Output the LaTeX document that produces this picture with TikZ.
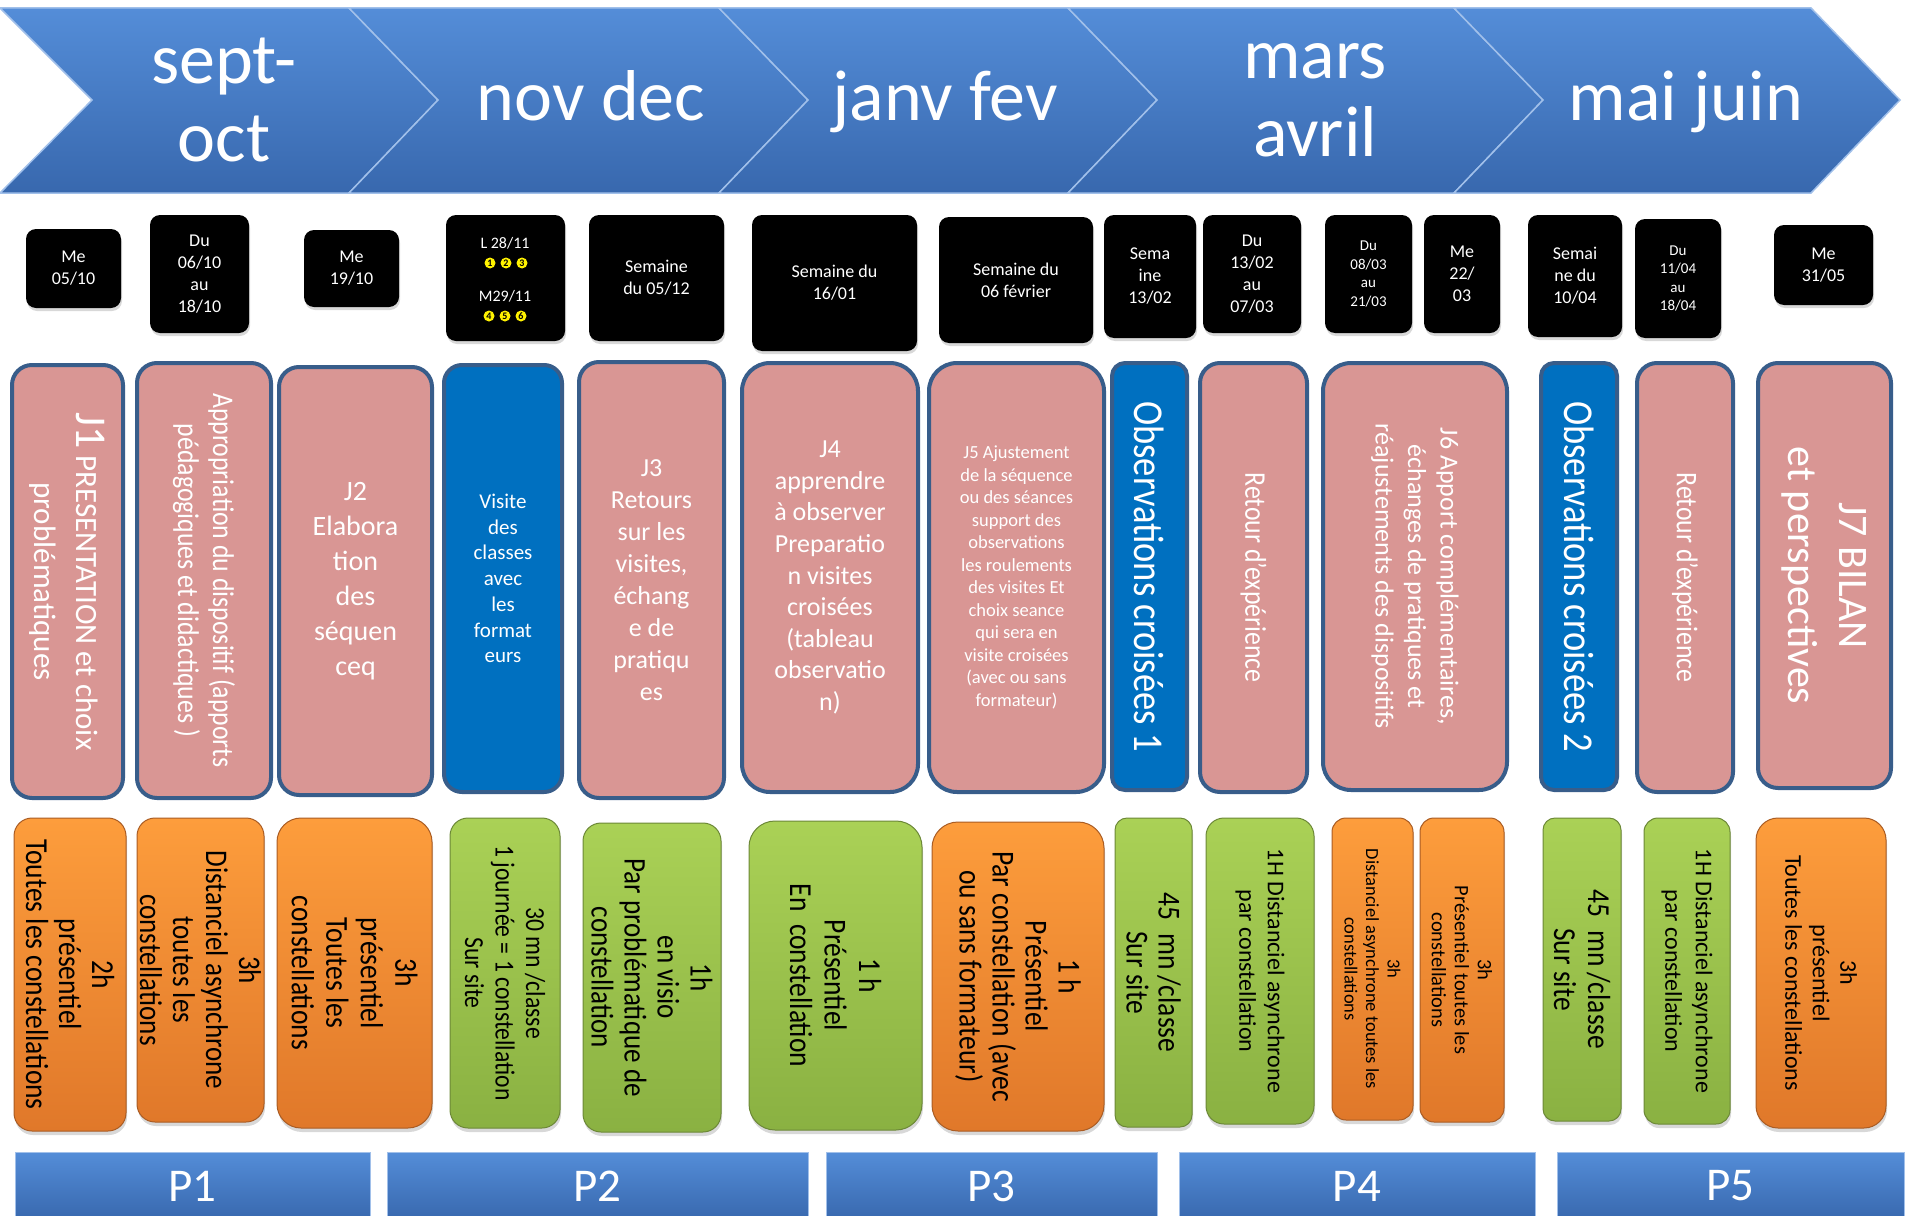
\documentclass[tikz,border=0pt]{standalone}
\usepackage{fontspec}
\setmainfont{Carlito}
\newfontfamily\narrowfont[FakeStretch=0.86]{Carlito}
\usetikzlibrary{shadows}
\definecolor{chevtop}{RGB}{84,141,216}
\definecolor{chevbot}{RGB}{56,104,174}
\definecolor{pinkfill}{RGB}{217,150,148}
\definecolor{pinkline}{RGB}{56,93,138}
\definecolor{obsblue}{RGB}{0,112,192}
\definecolor{orangetop}{RGB}{253,157,60}
\definecolor{orangebot}{RGB}{224,120,42}
\definecolor{orangeline}{RGB}{170,92,35}
\definecolor{greentop}{RGB}{170,209,86}
\definecolor{greenbot}{RGB}{138,177,66}
\definecolor{greenline}{RGB}{108,136,55}
\tikzset{
  chev/.style={top color=chevtop, bottom color=chevbot, draw=chevtop!55!white, line width=1.5pt},
  month/.style={text=white, align=center, font=\fontsize{72}{78}\selectfont},
  datebox/.style={fill=black, rounded corners=10pt, text=white, align=center, inner sep=0pt,
    font=\fontsize{18}{22}\selectfont, drop shadow={opacity=0.3, shadow xshift=1pt, shadow yshift=-3pt}},
  datetext/.style={text=white, font=\fontsize{16}{16}\selectfont},
  numdot/.style={circle, fill=yellow, inner sep=0pt, minimum size=11pt, font=\fontsize{10}{10}\selectfont\bfseries},
  jbox/.style={fill=pinkfill, draw=pinkline, line width=4pt, rounded corners=20pt, text=white, align=center, inner sep=0pt},
  obsbox/.style={jbox, fill=obsblue, rounded corners=13pt},
  orangebox/.style={top color=orangetop, bottom color=orangebot, draw=orangeline, line width=1pt,
    rounded corners=18pt, align=center, inner sep=0pt, rotate=-90,
    drop shadow={opacity=0.3, shadow xshift=1pt, shadow yshift=-4pt}},
  greenbox/.style={orangebox, top color=greentop, bottom color=greenbot, draw=greenline},
  pbar/.style={top color=chevtop, bottom color=chevbot, draw=chevtop!55!white, line width=1pt,
    text=white, inner sep=0pt, font=\fontsize{47}{47}\selectfont}
}
\begin{document}
\begin{tikzpicture}[x=1pt,y=-1pt]
\useasboundingbox (0,0) rectangle (1905,1215);
\fill[white] (0,0) rectangle (1905,1215);

\shade[chev] (0,8) -- (349,8) -- (438,100) -- (349,193) -- (0,193) -- (92,100) -- cycle;
\shade[chev] (349,8) -- (719,8) -- (808,100) -- (719,193) -- (349,193) -- (438,100) -- cycle;
\shade[chev] (719,8) -- (1068,8) -- (1157,100) -- (1068,193) -- (719,193) -- (808,100) -- cycle;
\shade[chev] (1068,8) -- (1454,8) -- (1543,100) -- (1454,193) -- (1068,193) -- (1157,100) -- cycle;
\shade[chev] (1454,8) -- (1811,8) -- (1900,100) -- (1811,193) -- (1454,193) -- (1543,100) -- cycle;
\node[month] (m1) at (224,100) {sept-\\oct};
\node[month, anchor=base] (m2) at (591,120) {nov dec};
\node[month, anchor=base] (m3) at (945,120) {janv fev};
\node[month] (m4) at (1315,100) {mars\\avril};
\node[month, anchor=base] (m5) at (1686,120) {mai juin};

\node[datebox, minimum width=95pt, minimum height=79pt] (d1) at (73.5,268.5) {Me\\05/10};
\node[datebox, minimum width=99pt, minimum height=118pt] (d2) at (199.5,274) {Du\\06/10\\au\\18/10};
\node[datebox, minimum width=95pt, minimum height=77pt] (d3) at (351.5,268.5) {Me\\19/10};
\node[datebox, minimum width=119pt, minimum height=126pt] (d4) at (505.5,278) {};
\node[datetext] (d4a) at (505,243) {L 28/11};
\node[datetext] (d4b) at (505,296) {M29/11};
\foreach \i/\x/\y in {1/490/263, 2/506/263, 3/522/263, 4/489/316, 5/505/316, 6/521/316}
  \node[numdot] (c\i) at (\x,\y) {\i};
\node[datebox, minimum width=135pt, minimum height=126pt] (d5) at (656.5,278) {Semaine\\du 05/12};
\node[datebox, minimum width=165pt, minimum height=136pt] (d6) at (834.5,283) {Semaine du\\16/01};
\node[datebox, minimum width=154pt, minimum height=126pt] (d7) at (1016,280) {Semaine du\\06 février};
\node[datebox, minimum width=92pt, minimum height=123pt] (d8) at (1150,276.5) {Sema\\ine\\13/02};
\node[datebox, minimum width=98pt, minimum height=118pt] (d9) at (1252,274) {Du\\13/02\\au\\07/03};
\node[datebox, minimum width=87pt, minimum height=118pt, font=\fontsize{15}{18.5}\selectfont] (d10) at (1368.5,274) {Du\\08/03\\au\\21/03};
\node[datebox, minimum width=76pt, minimum height=118pt] (d11) at (1462,274) {Me\\22/\\03};
\node[datebox, minimum width=94pt, minimum height=122pt] (d12) at (1575,276) {Semai\\ne du\\10/04};
\node[datebox, minimum width=86pt, minimum height=119pt, font=\fontsize{15}{18.5}\selectfont] (d13) at (1678,278.5) {Du\\11/04\\au\\18/04};
\node[datebox, minimum width=99pt, minimum height=80pt] (d14) at (1823.5,265) {Me\\31/05};

\node[jbox, rotate=-90, minimum width=433pt, minimum height=111pt, font=\fontsize{31}{42}\selectfont] (j1) at (67.5,581.5)
  {{\fontsize{44}{44}\selectfont J1} PRESENTATION et choix\\problématiques};
\node[jbox, rotate=-90, minimum width=435pt, minimum height=134pt, font=\narrowfont\fontsize{30}{35}\selectfont] (app) at (204,580.5)
  {Appropriation du dispositif (apports\\pédagogiques et didactiques )};
\node[jbox, minimum width=153pt, minimum height=428pt, font=\fontsize{28}{35}\selectfont] (j2) at (355.5,581) {J2\\Elabora\\tion\\des\\séquen\\ceq};
\node[obsbox, minimum width=118pt, minimum height=427pt, rounded corners=18pt, font=\fontsize{21}{25.7}\selectfont] (vis) at (503,578.5)
  {Visite\\des\\classes\\avec\\les\\format\\eurs};
\node[jbox, minimum width=145pt, minimum height=436pt, font=\fontsize{26}{32}\selectfont] (j3) at (651.5,580)
  {J3\\Retours\\sur les\\visites,\\échang\\e de\\pratiqu\\es};
\node[jbox, minimum width=176pt, minimum height=429pt, rounded corners=28pt, font=\fontsize{26}{31.6}\selectfont] (j4) at (830,577.5)
  {J4\\apprendre\\à observer\\Preparatio\\n visites\\croisées\\(tableau\\observatio\\n)};
\node[jbox, minimum width=175pt, minimum height=429pt, rounded corners=28pt, font=\fontsize{18.5}{22.5}\selectfont] (j5) at (1016.5,577.5)
  {J5 Ajustement\\de la séquence\\ou des séances\\support des\\observations\\les roulements\\des visites Et\\choix seance\\qui sera en\\visite croisées\\(avec ou sans\\formateur)};
\node[obsbox, rotate=-90, minimum width=427pt, minimum height=75pt, font=\narrowfont\fontsize{42.5}{42.5}\selectfont] (obs1) at (1149.5,576.5) {Observations croisées 1};
\node[jbox, rotate=-90, minimum width=429pt, minimum height=107pt, font=\narrowfont\fontsize{30}{30}\selectfont] (ret1) at (1253.5,577.5) {Retour d’expérience};
\node[jbox, rotate=-90, minimum width=427pt, minimum height=184pt, rounded corners=28pt, font=\fontsize{26}{32.5}\selectfont] (j6) at (1415,576.5)
  {J6 Apport complémentaires,\\échanges de pratiques et\\réajustements des dispositifs};
\node[obsbox, rotate=-90, minimum width=427pt, minimum height=76pt, font=\narrowfont\fontsize{42.5}{42.5}\selectfont] (obs2) at (1579,576.5) {Observations croisées 2};
\node[jbox, rotate=-90, minimum width=429pt, minimum height=96pt, font=\narrowfont\fontsize{30}{30}\selectfont] (ret2) at (1685,577.5) {Retour d’expérience};
\node[jbox, rotate=-90, minimum width=425pt, minimum height=133pt, font=\fontsize{42}{51}\selectfont] (j7) at (1824.5,575.5) {J7 BILAN\\et perspectives};

\node[orangebox, minimum width=313pt, minimum height=112pt, font=\narrowfont\fontsize{32}{33}\selectfont] (o1) at (70,974.5)
  {2h\\présentiel\\Toutes les constellations};
\node[orangebox, minimum width=304pt, minimum height=127pt, font=\narrowfont\fontsize{31.5}{33}\selectfont] (o2) at (200.5,970)
  {3h\\Distanciel asynchrone\\toutes les\\constellations};
\node[orangebox, minimum width=310pt, minimum height=155pt, rounded corners=24pt, font=\narrowfont\fontsize{32}{34.5}\selectfont] (o3) at (354.5,973)
  {3h\\présentiel\\Toutes les\\constellations};
\node[greenbox, minimum width=310pt, minimum height=110pt, font=\narrowfont\fontsize{27.5}{30.5}\selectfont] (g1) at (505,973)
  {30 mn /classe\\1 journée = 1 constellation\\Sur site};
\node[greenbox, minimum width=309pt, minimum height=138pt, font=\narrowfont\fontsize{31.5}{33}\selectfont] (g2) at (652,977.5)
  {1h\\en visio\\Par problématique de\\constellation};
\node[greenbox, minimum width=309pt, minimum height=173pt, rounded corners=26pt, font=\narrowfont\fontsize{32}{34.5}\selectfont] (g3) at (835.5,975.5)
  {1 h\\Présentiel\\En~ constellation};
\node[orangebox, minimum width=309pt, minimum height=172pt, rounded corners=26pt, font=\narrowfont\fontsize{32}{33}\selectfont] (o4) at (1018,976.5)
  {1 h\\Présentiel\\Par constellation (avec\\ou sans formateur)};
\node[greenbox, minimum width=309pt, minimum height=77pt, rounded corners=12pt, font=\narrowfont\fontsize{32}{32}\selectfont] (g4) at (1153.5,972.5)
  {45~ mn /classe\\Sur site};
\node[greenbox, minimum width=306pt, minimum height=108pt, font=\fontsize{24}{28.5}\selectfont] (g5) at (1260,971)
  {1H Distanciel asynchrone\\par constellation};
\node[orangebox, minimum width=302pt, minimum height=81pt, rounded corners=14pt, font=\fontsize{18.5}{21.5}\selectfont] (o5) at (1372.5,969)
  {3h\\Distanciel asynchrone toutes les\\constellations};
\node[orangebox, minimum width=304pt, minimum height=84pt, rounded corners=14pt, font=\fontsize{20.5}{23}\selectfont] (o6) at (1462,970)
  {3h\\Présentiel toutes les\\constellations};
\node[greenbox, minimum width=303pt, minimum height=78pt, rounded corners=12pt, font=\narrowfont\fontsize{32}{34}\selectfont] (g6) at (1582,969.5)
  {45~ mn /classe\\Sur site};
\node[greenbox, minimum width=306pt, minimum height=86pt, rounded corners=14pt, font=\fontsize{24}{30.5}\selectfont] (g7) at (1687,971)
  {1H Distanciel asynchrone\\par constellation};
\node[orangebox, minimum width=310pt, minimum height=130pt, rounded corners=22pt, font=\fontsize{24}{27.5}\selectfont] (o7) at (1821,973)
  {3h\\présentiel\\Toutes les constellations};

\node[pbar, minimum width=355pt, minimum height=68pt] (p1) at (192.5,1186) {P1};
\node[pbar, minimum width=421pt, minimum height=68pt] (p2) at (597.5,1186) {P2};
\node[pbar, minimum width=331pt, minimum height=68pt] (p3) at (991.5,1186) {P3};
\node[pbar, minimum width=356pt, minimum height=68pt] (p4) at (1357,1186) {P4};
\node[pbar, minimum width=347pt, minimum height=68pt] (p5) at (1730.5,1186) {P5};
\end{tikzpicture}
\end{document}
